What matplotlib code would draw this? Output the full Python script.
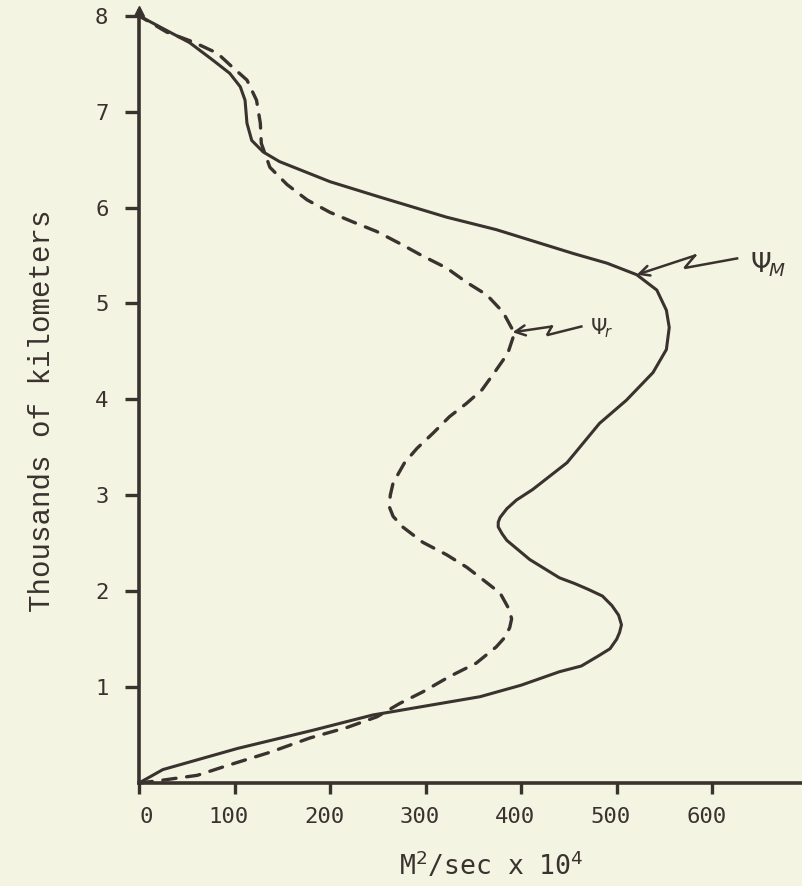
import matplotlib
matplotlib.use("Agg")
import matplotlib.pyplot as plt
import matplotlib.transforms as mtransforms

# ---- data ----
# Psi_M (solid): transport, M^2/sec x 10^4 ; height in thousands of km
psi_m_x = [0, 25, 103, 182, 245, 263, 357, 400, 440, 463, 480, 493, 500, 503,
           505, 502, 495, 485, 470, 456, 440, 409, 385, 380, 376, 376, 378,
           385, 395, 412, 448, 482, 510, 538, 552, 555, 552, 542, 521, 490,
           455, 374, 322, 252, 200, 147, 130, 118, 113, 111, 106, 95, 77, 53, 0]
psi_m_y = [0.0, 0.14, 0.36, 0.55, 0.71, 0.74, 0.90, 1.02, 1.16, 1.22, 1.32,
           1.40, 1.50, 1.57, 1.65, 1.75, 1.85, 1.95, 2.02, 2.08, 2.14, 2.33,
           2.53, 2.60, 2.67, 2.72, 2.77, 2.86, 2.95, 3.06, 3.34, 3.75, 3.99,
           4.28, 4.52, 4.75, 4.93, 5.14, 5.30, 5.42, 5.52, 5.77, 5.90, 6.11,
           6.27, 6.48, 6.58, 6.70, 6.88, 7.12, 7.26, 7.40, 7.54, 7.72, 8.0]

# Psi_r (dashed)
psi_r_x = [0, 25, 61, 95, 137, 179, 218, 249, 273, 297, 325, 353, 374, 383,
           388, 390, 388, 378, 360, 343, 322, 297, 276, 266, 262, 263, 266,
           278, 291, 308, 325, 343, 359, 372, 386, 393, 381, 364, 343, 322,
           296, 276, 249, 224, 200, 176, 155, 137, 128, 127, 123, 113, 95,
           82, 56, 29, 0]
psi_r_y = [0.0, 0.03, 0.08, 0.19, 0.32, 0.47, 0.58, 0.69, 0.83, 0.95, 1.11,
           1.25, 1.42, 1.52, 1.62, 1.71, 1.80, 1.98, 2.12, 2.25, 2.38, 2.51,
           2.67, 2.78, 2.88, 3.00, 3.13, 3.34, 3.49, 3.65, 3.82, 3.96, 4.10,
           4.28, 4.48, 4.69, 4.91, 5.09, 5.22, 5.37, 5.50, 5.61, 5.75, 5.85,
           5.95, 6.08, 6.24, 6.42, 6.67, 6.88, 7.12, 7.33, 7.49, 7.61, 7.73,
           7.83, 8.0]

x_ticks = [0, 100, 200, 300, 400, 500, 600]
y_ticks = [1, 2, 3, 4, 5, 6, 7, 8]
x_tick_labels = [str(v) for v in x_ticks]
y_tick_labels = [str(v) for v in y_ticks]

# annotation anchors (data coords): arrow tip, zigzag, label
psi_m_zig_x = [521, 582, 571, 626]
psi_m_zig_y = [5.30, 5.50, 5.37, 5.47]
psi_m_label_xy = (658, 5.40)
psi_r_zig_x = [391, 432, 427, 463]
psi_r_zig_y = [4.70, 4.76, 4.67, 4.76]
psi_r_label_xy = (484, 4.74)

# ---- style ----
BG = "#f4f4e2"
INK = "#3a322e"

fig = plt.figure(figsize=(8.03, 8.86), dpi=100, facecolor=BG)
ax = fig.add_axes([139 / 803, 1 - 783 / 886, 1 - 139 / 803, (783 - 11) / 886])
ax.set_facecolor(BG)
ax.set_xlim(0, 695)
ax.set_ylim(0, 8.05)

for s in ["top", "right"]:
    ax.spines[s].set_visible(False)
for s in ["left", "bottom"]:
    ax.spines[s].set_linewidth(2.6)
    ax.spines[s].set_color(INK)

# small arrowhead on top of the vertical axis
ax.plot([0], [1.0], marker="^", markersize=7, color=INK,
        transform=ax.get_xaxis_transform(), clip_on=False)

ax.plot(psi_m_x, psi_m_y, color=INK, lw=2.2, solid_capstyle="round",
        solid_joinstyle="round", clip_on=False)
ax.plot(psi_r_x, psi_r_y, color=INK, lw=2.4, dashes=(4, 3.2),
        dash_capstyle="round", clip_on=False)

# annotations
for zx, zy in [(psi_m_zig_x, psi_m_zig_y), (psi_r_zig_x, psi_r_zig_y)]:
    ax.plot(zx[1:], zy[1:], color=INK, lw=1.8, solid_joinstyle="miter")
    ax.annotate("", xy=(zx[0], zy[0]), xytext=(zx[1], zy[1]),
                arrowprops=dict(arrowstyle="->", color=INK, lw=1.8,
                                mutation_scale=18, shrinkA=0, shrinkB=0))
ax.text(*psi_m_label_xy, r"$\Psi_{\!M}$", fontsize=19, color=INK,
        ha="center", va="center")
ax.text(*psi_r_label_xy, r"$\Psi_{\!r}$", fontsize=15, color=INK,
        ha="center", va="center")

tick_font = dict(family="DejaVu Sans Mono", size=16, color=INK)
ax.set_xticks(x_ticks)
ax.set_xticklabels(x_tick_labels, **tick_font)
ax.set_yticks(y_ticks)
ax.set_yticklabels(y_tick_labels, **tick_font)
ax.tick_params(axis="x", direction="out", length=8, width=2.4, color=INK, pad=9)
ax.tick_params(axis="y", direction="out", length=10, width=2.4, color=INK, pad=12)

# typewritten labels sit a little left of their ticks (the "0" a little right)
for val, lbl in zip(x_ticks, ax.get_xticklabels()):
    dx = 7 if val == 0 else -6
    lbl.set_transform(lbl.get_transform() +
                      mtransforms.ScaledTranslation(dx / 100, 0, fig.dpi_scale_trans))

fig.text(42 / 803, 1 - 411 / 886, "Thousands of kilometers", rotation=90,
         family="Liberation Mono", fontsize=21, color=INK,
         ha="center", va="center")
fig.text(491 / 803, 1 - 866 / 886, r"M$^2$/sec x 10$^4$",
         family="DejaVu Sans Mono", fontsize=19, color=INK,
         ha="center", va="center")

fig.savefig("out.png", dpi=100, facecolor=BG)
